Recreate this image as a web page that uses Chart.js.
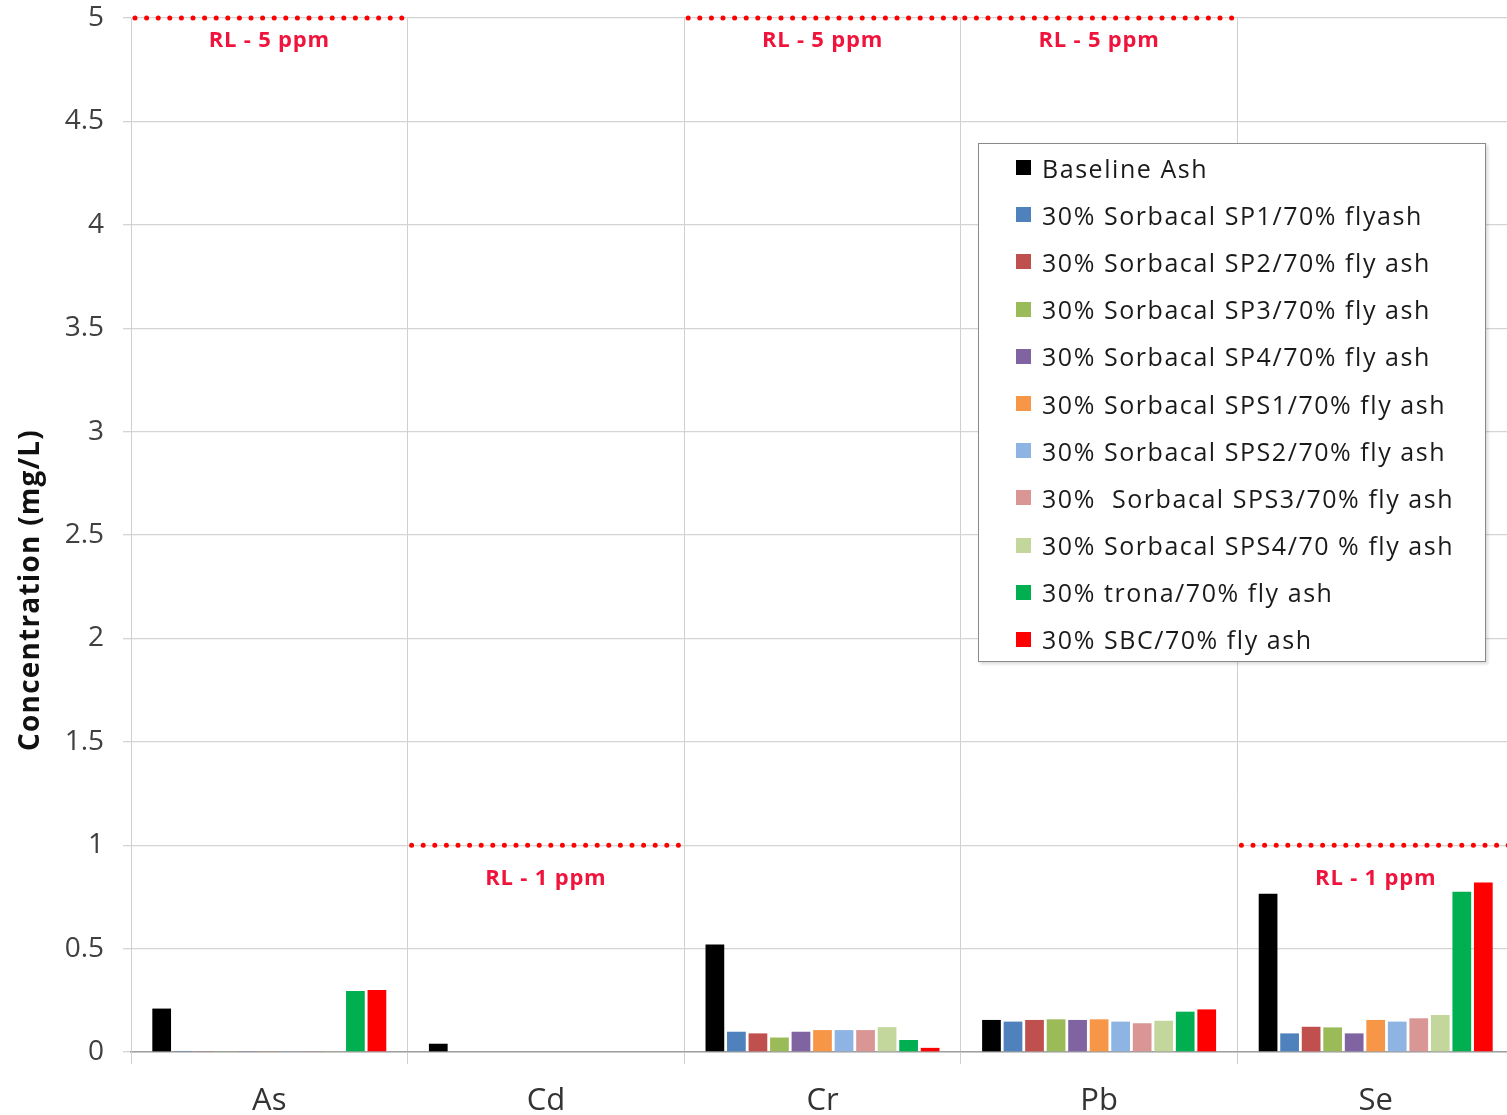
<!DOCTYPE html>
<html>
<head>
<meta charset="utf-8">
<script src="https://cdn.jsdelivr.net/npm/chart.js@4"></script>
<style>
  html, body { margin: 0; padding: 0; overflow: hidden; background: #fff; }
  #wrap { position: relative; width: 1514px; height: 1115px; }
  #legend {
    position: absolute; left: 978px; top: 143px; width: 506px; height: 517px;
    border: 1.5px solid #8a8a8a; background: #fff; box-shadow: 2px 2px 3px rgba(0,0,0,0.15);
    font-family: 'Open Sans', sans-serif; font-size: 25px; letter-spacing: 1.55px; color: #1a1a1a;
  }
  .item { display: flex; align-items: center; height: 47.2px; padding-left: 37px; white-space: pre; }
  .swatch { width: 15px; height: 15px; margin-right: 11px; }
</style>
</head>
<body>
<div id="wrap">
  <canvas id="myChart" width="1514" height="1115"></canvas>
  <div id="legend"></div>
</div>
<script>
const elements = ['As', 'Cd', 'Cr', 'Pb', 'Se'];
const rlLimits = [5, 1, 5, 5, 1];
const rlLabels = ['RL - 5 ppm', 'RL - 1 ppm', 'RL - 5 ppm', 'RL - 5 ppm', 'RL - 1 ppm'];
const yTitle = 'Concentration (mg/L)';

const seriesNames = [
    'Baseline Ash',
    '30% Sorbacal SP1/70% flyash',
    '30% Sorbacal SP2/70% fly ash',
    '30% Sorbacal SP3/70% fly ash',
    '30% Sorbacal SP4/70% fly ash',
    '30% Sorbacal SPS1/70% fly ash',
    '30% Sorbacal SPS2/70% fly ash',
    '30%  Sorbacal SPS3/70% fly ash',
    '30% Sorbacal SPS4/70 % fly ash',
    '30% trona/70% fly ash',
    '30% SBC/70% fly ash'
];

const baseline = [0.21, 0.04, 0.52, 0.155, 0.765];
const sp1 = [0.005, 0, 0.098, 0.147, 0.09];
const sp2 = [0.004, 0, 0.09, 0.155, 0.122];
const sp3 = [0.004, 0, 0.07, 0.158, 0.119];
const sp4 = [0.004, 0, 0.098, 0.155, 0.09];
const sps1 = [0.004, 0, 0.106, 0.158, 0.155];
const sps2 = [0.004, 0, 0.106, 0.147, 0.147];
const sps3 = [0.004, 0, 0.106, 0.139, 0.163];
const sps4 = [0.004, 0, 0.12, 0.151, 0.179];
const trona = [0.295, 0, 0.058, 0.195, 0.775];
const sbc = [0.30, 0, 0.02, 0.206, 0.82];

const seriesValues = [baseline, sp1, sp2, sp3, sp4, sps1, sps2, sps3, sps4, trona, sbc];
const colors = ['#000000', '#4f81bd', '#c0504d', '#9bbb59', '#8064a2', '#f79646',
                '#8db4e2', '#d99694', '#c3d69b', '#00b050', '#ff0000'];

// dotted reporting-limit lines with their labels
const rlPlugin = {
    id: 'rlLines',
    afterDatasetsDraw(chart) {
        const ctx = chart.ctx;
        const x = chart.scales.x;
        const y = chart.scales.y;
        const half = (x.getPixelForValue(1) - x.getPixelForValue(0)) / 2;
        rlLimits.forEach((lim, i) => {
            const cx = x.getPixelForValue(i);
            const py = y.getPixelForValue(lim);
            ctx.save();
            ctx.strokeStyle = '#ff0000';
            ctx.lineWidth = 5;
            ctx.lineCap = 'round';
            ctx.setLineDash([0, 11.6]);
            ctx.beginPath();
            ctx.moveTo(cx - half + 4, py);
            ctx.lineTo(cx + half - 4, py);
            ctx.stroke();
            ctx.setLineDash([]);
            ctx.fillStyle = '#f0143c';
            ctx.font = "bold 22px 'Open Sans', sans-serif";
            ctx.letterSpacing = '0.8px';
            ctx.textAlign = 'center';
            ctx.textBaseline = 'middle';
            ctx.fillText(rlLabels[i], cx, py + (lim === 5 ? 23 : 34));
            ctx.restore();
        });
    }
};

// y axis title, placed lower than the chart-area centre as in the original
const yTitlePlugin = {
    id: 'yTitle',
    afterDraw(chart) {
        const ctx = chart.ctx;
        ctx.save();
        ctx.translate(31, 590);
        ctx.rotate(-Math.PI / 2);
        ctx.fillStyle = '#111';
        ctx.font = "bold 28px 'Open Sans', sans-serif";
        ctx.letterSpacing = '1.2px';
        ctx.textAlign = 'center';
        ctx.textBaseline = 'middle';
        ctx.fillText(yTitle, 0, 0);
        ctx.restore();
    }
};

const chart = new Chart(document.getElementById('myChart'), {
    type: 'bar',
    data: {
        labels: elements,
        datasets: seriesNames.map((name, i) => ({
            label: name,
            data: seriesValues[i],
            backgroundColor: colors[i],
            categoryPercentage: 0.856,
            barPercentage: 0.87
        }))
    },
    options: {
        responsive: false,
        animation: false,
        layout: { padding: { top: 18, left: 0, right: 0, bottom: 0 } },
        plugins: {
            legend: { display: false },
            tooltip: { enabled: false }
        },
        scales: {
            x: {
                afterFit: (scale) => { scale.height = 63; },
                grid: { color: '#cfcfcf', offset: true, tickLength: 12 },
                border: { color: '#a0a0a0', width: 1.5 },
                ticks: {
                    color: '#333',
                    padding: 19,
                    font: { size: 31, family: "'Open Sans', sans-serif" }
                }
            },
            y: {
                min: 0,
                max: 5,
                afterFit: (scale) => {
                    scale.width = 131;
                    scale.paddingTop = 0;
                    scale.paddingBottom = 0;
                },
                grid: { color: '#d4d4d4', lineWidth: 1.3, tickLength: 8 },
                border: { color: '#cfcfcf' },
                ticks: {
                    stepSize: 0.5,
                    color: '#404040',
                    padding: 19,
                    font: { size: 28, family: "'Open Sans', sans-serif" },
                    callback: (v) => String(v)
                }
            }
        }
    },
    plugins: [rlPlugin, yTitlePlugin]
});

// legend box built from the chart's datasets
const legendEl = document.getElementById('legend');
chart.data.datasets.forEach((ds) => {
    const row = document.createElement('div');
    row.className = 'item';
    const sw = document.createElement('span');
    sw.className = 'swatch';
    sw.style.background = ds.backgroundColor;
    const txt = document.createElement('span');
    txt.textContent = ds.label;
    row.appendChild(sw);
    row.appendChild(txt);
    legendEl.appendChild(row);
});
</script>
</body>
</html>
